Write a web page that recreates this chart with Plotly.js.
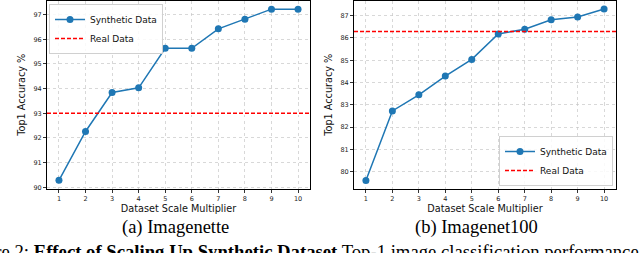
<!DOCTYPE html>
<html>
<head>
<meta charset="utf-8">
<script src="https://cdn.plot.ly/plotly-3.0.1.min.js"></script>
<style>html,body{margin:0;padding:0;background:#fff;}#chart{width:640px;height:253px;}</style>
</head>
<body>
<div id="chart"></div>
<script>
// ---- data ----
const multipliers = [1, 2, 3, 4, 5, 6, 7, 8, 9, 10];
const imagenetteSynthetic = [90.28, 92.26, 93.84, 94.03, 95.63, 95.63, 96.42, 96.81, 97.22, 97.22];
const imagenetteReal = 93.0;
const imagenet100Synthetic = [79.61, 82.73, 83.45, 84.29, 85.04, 86.18, 86.39, 86.82, 86.94, 87.30];
const imagenet100Real = 86.29;
const seriesNames = ["Synthetic Data", "Real Data"];
const xTitle = "Dataset Scale Multiplier";
const yTitle = "Top1 Accuracy %";
const captions = ["(a) Imagenette", "(b) Imagenet100"];
const figCaption = "Figure 2: <b>Effect of Scaling Up Synthetic Dataset</b> Top-1 image classification performance";

// ---- layout helpers ----
const W = 640, H = 253;
const xRange = [0.55, 10.45];
const px = v => v / W;
const py = v => 1 - v / H;
const blue = "#1f77b4";

function synth(y, xa, ya, lg) {
  return {x: multipliers, y: y, xaxis: xa, yaxis: ya, legend: lg, name: seriesNames[0],
    mode: "lines+markers", line: {color: blue, width: 1.5}, marker: {color: blue, size: 7}};
}
function real(v, xa, ya, lg) {
  return {x: xRange, y: [v, v], xaxis: xa, yaxis: ya, legend: lg, name: seriesNames[1],
    mode: "lines", line: {color: "#ff0000", width: 1.6, dash: "4px,2px"}};
}

const traces = [
  synth(imagenetteSynthetic, "x", "y", "legend"),
  real(imagenetteReal, "x", "y", "legend"),
  synth(imagenet100Synthetic, "x2", "y2", "legend2"),
  real(imagenet100Real, "x2", "y2", "legend2")
];

const tickFont = {family: "DejaVu Sans", size: 6.5, color: "#222"};
const titleFont = {family: "DejaVu Sans", size: 9.7, color: "#111"};
function xax(domain, anchor) {
  return {domain: domain, anchor: anchor, range: xRange, tickvals: multipliers,
    ticks: "outside", ticklen: 3, tickwidth: 0.8, tickcolor: "#000", tickfont: tickFont,
    showline: true, mirror: true, linecolor: "#000", linewidth: 1,
    showgrid: true, gridcolor: "#c8c8c8", gridwidth: 0.7, griddash: "dot", zeroline: false,
    title: {text: xTitle, font: titleFont, standoff: 3}};
}
function yax(domain, anchor, range, dtick) {
  return {domain: domain, anchor: anchor, range: range, dtick: dtick,
    ticks: "outside", ticklen: 3, tickwidth: 0.8, tickcolor: "#000", tickfont: tickFont,
    showline: true, mirror: true, linecolor: "#000", linewidth: 1,
    showgrid: true, gridcolor: "#c8c8c8", gridwidth: 0.7, griddash: "dot", zeroline: false,
    title: {text: yTitle, font: titleFont, standoff: 6}};
}
const yDomain = [py(189), py(0.5)];
const legendFont = {family: "DejaVu Sans", size: 9, color: "#111"};

const layout = {
  width: W, height: H, margin: {l: 0, r: 0, t: 0, b: 0},
  paper_bgcolor: "#fff", plot_bgcolor: "#fff", showlegend: true,
  xaxis: xax([px(47), px(310)], "y"),
  yaxis: yax(yDomain, "x", [89.93, 97.57], 1),
  xaxis2: xax([px(354), px(616)], "y2"),
  yaxis2: yax(yDomain, "x2", [79.23, 87.68], 1),
  legend: {x: px(49), y: py(4), xanchor: "left", yanchor: "top", font: legendFont,
    bgcolor: "rgba(255,255,255,0.85)", bordercolor: "#d0d0d0", borderwidth: 1, itemwidth: 30},
  legend2: {x: px(613), y: py(186), xanchor: "right", yanchor: "bottom", font: legendFont,
    bgcolor: "rgba(255,255,255,0.85)", bordercolor: "#d0d0d0", borderwidth: 1, itemwidth: 30},
  annotations: [
    {text: captions[0], xref: "paper", yref: "paper", x: px(175), y: py(227), xanchor: "center", yanchor: "middle",
      showarrow: false, font: {family: "Liberation Serif", size: 18.5, color: "#000"}},
    {text: captions[1], xref: "paper", yref: "paper", x: px(476), y: py(227), xanchor: "center", yanchor: "middle",
      showarrow: false, font: {family: "Liberation Serif", size: 18.5, color: "#000"}},
    {text: figCaption, xref: "paper", yref: "paper", x: px(641), y: py(251), xanchor: "right", yanchor: "middle",
      showarrow: false, font: {family: "Liberation Serif", size: 18.7, color: "#000"}}
  ]
};

Plotly.newPlot("chart", traces, layout, {staticPlot: true, displayModeBar: false});
</script>
</body>
</html>
